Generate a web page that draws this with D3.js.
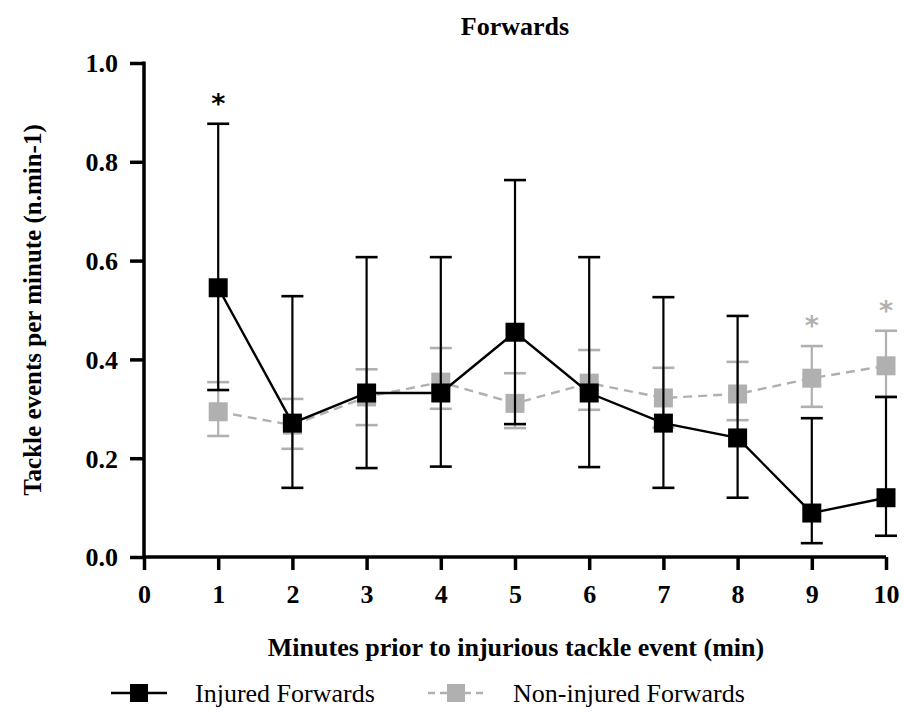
<!DOCTYPE html>
<html><head><meta charset="utf-8">
<script src="https://cdn.jsdelivr.net/npm/d3@7"></script>
<style>body{margin:0;background:#fff}svg{display:block}
text.serif{font-family:"Liberation Serif","Times New Roman",serif}</style>
</head><body>
<script>
const minutes = [1,2,3,4,5,6,7,8,9,10];
const injuredMean  = [0.545,0.271,0.332,0.332,0.455,0.332,0.271,0.241,0.089,0.120];
const injuredUpper = [0.877,0.528,0.607,0.607,0.763,0.607,0.526,0.488,0.281,0.324];
const injuredLower = [0.338,0.140,0.180,0.183,0.269,0.182,0.140,0.120,0.028,0.043];
const nonMean  = [0.294,0.267,0.324,0.354,0.311,0.352,0.322,0.330,0.362,0.387];
const nonUpper = [0.354,0.320,0.380,0.423,0.372,0.419,0.383,0.395,0.427,0.458];
const nonLower = [0.245,0.219,0.267,0.300,0.261,0.298,0.262,0.277,0.304,0.324];
const injuredStars = [1];
const nonStars = [9,10];
const xTicks = [0,1,2,3,4,5,6,7,8,9,10];
const yTicks = [0,0.2,0.4,0.6,0.8,1.0];

const W=904,H=715;
const svg=d3.select("body").append("svg").attr("width",W).attr("height",H);
const x=d3.scaleLinear().domain([0,10]).range([144,886]);
const y=d3.scaleLinear().domain([0,1]).range([557,63]);
const GRAY="#b0b0b0";

// axes
const xa=svg.append("g").attr("transform",`translate(0,${y(0)})`)
  .call(d3.axisBottom(x).tickValues(xTicks).tickFormat(d3.format("d")).tickSize(13).tickSizeOuter(0));
const ya=svg.append("g").attr("transform",`translate(${x(0)},0)`)
  .call(d3.axisLeft(y).tickValues(yTicks).tickFormat(d3.format(".1f")).tickSize(14).tickSizeOuter(0));
[xa,ya].forEach(g=>{
  g.attr("font-family",null).attr("font-size",null);
  g.selectAll("path,line").attr("stroke","#000").attr("stroke-width",3.5);
  g.selectAll("text").attr("class","serif").style("font-weight","bold").style("font-size","26px").attr("fill","#000");
});
xa.select("path.domain").attr("d",`M${x(0)},0H${x(10)}`);
ya.select("path.domain").attr("d",`M0,${y(0)+2}V${y(1)-1.5}`);
xa.selectAll("text").attr("y",0).attr("dy",null).attr("transform","translate(0,46)");
ya.selectAll("text").attr("x",-26).attr("dy","0.34em");

function series(mean,up,lo,color,dash,size){
  const g=svg.append("g");
  const cw=11;
  minutes.forEach((m,i)=>{
    g.append("line").attr("x1",x(m)).attr("x2",x(m)).attr("y1",y(up[i])).attr("y2",y(lo[i]))
      .attr("stroke",color).attr("stroke-width",2.2);
    [up[i],lo[i]].forEach(v=>g.append("line").attr("x1",x(m)-cw).attr("x2",x(m)+cw)
      .attr("y1",y(v)).attr("y2",y(v)).attr("stroke",color).attr("stroke-width",2.6));
  });
  g.append("path").datum(mean.map((v,i)=>[minutes[i],v]))
    .attr("d",d3.line().x(d=>x(d[0])).y(d=>y(d[1])))
    .attr("fill","none").attr("stroke",color).attr("stroke-width",2.4).attr("stroke-dasharray",dash);
  g.selectAll("rect").data(mean).join("rect")
    .attr("x",(d,i)=>x(minutes[i])-size/2).attr("y",d=>y(d)-size/2)
    .attr("width",size).attr("height",size).attr("fill",color);
}
series(nonMean,nonUpper,nonLower,GRAY,"9,6",19);
series(injuredMean,injuredUpper,injuredLower,"#000",null,19);

// significance stars
function star(m,upArr,color){
  const i=minutes.indexOf(m);
  svg.append("text").attr("x",x(m)).attr("y",y(upArr[i])-11).attr("text-anchor","middle")
    .style("font-family","'DejaVu Sans',sans-serif").style("font-weight","bold").style("font-size","27px")
    .attr("fill",color).text("*");
}
injuredStars.forEach(m=>star(m,injuredUpper,"#000"));
nonStars.forEach(m=>star(m,nonUpper,GRAY));

// titles
svg.append("text").attr("class","serif").attr("x",515).attr("y",35).attr("text-anchor","middle")
  .style("font-weight","bold").style("font-size","26px").text("Forwards");
svg.append("text").attr("class","serif").attr("x",516).attr("y",656).attr("text-anchor","middle")
  .style("font-weight","bold").style("font-size","26px").text("Minutes prior to injurious tackle event (min)");
svg.append("text").attr("class","serif").attr("transform","translate(41,310) rotate(-90)").attr("text-anchor","middle")
  .style("font-weight","bold").style("font-size","25px").text("Tackle events per minute (n.min-1)");

// legend
const legend=[{label:"Injured Forwards",color:"#000",dash:null,x0:111,tx:195},
              {label:"Non-injured Forwards",color:GRAY,dash:"7,5",x0:428,tx:513}];
legend.forEach(l=>{
  const g=svg.append("g");
  g.append("line").attr("x1",l.x0).attr("x2",l.x0+56).attr("y1",693).attr("y2",693)
    .attr("stroke",l.color).attr("stroke-width",2.4).attr("stroke-dasharray",l.dash);
  g.append("rect").attr("x",l.x0+28-9).attr("y",693-9).attr("width",18).attr("height",18).attr("fill",l.color);
  g.append("text").attr("class","serif").attr("x",l.tx).attr("y",702).style("font-size","26px").attr("fill","#000").text(l.label);
});
</script>
</body></html>
